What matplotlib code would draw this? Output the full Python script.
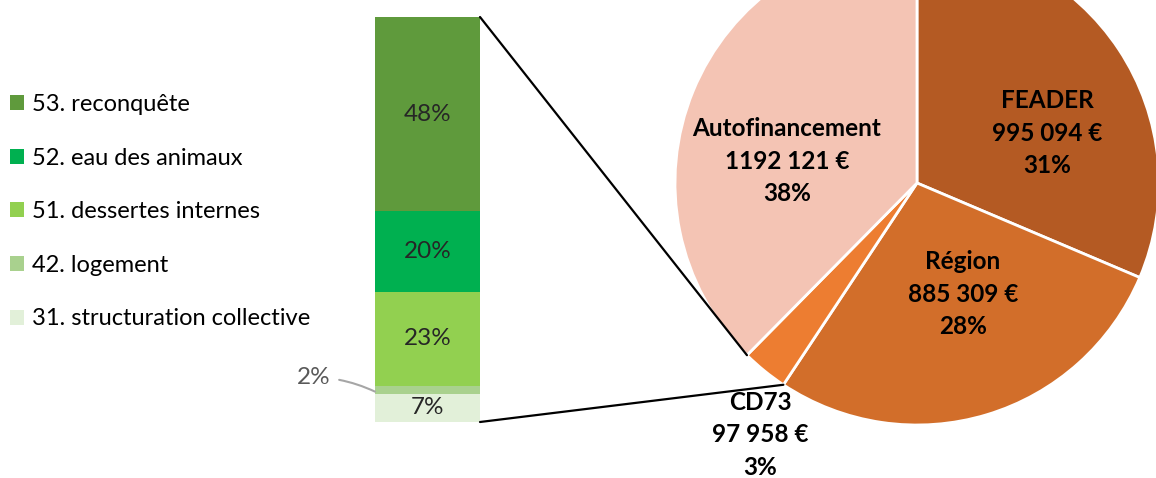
import matplotlib.pyplot as plt
import numpy as np
from matplotlib.patches import ConnectionPatch

plt.rcParams['font.family'] = ['Lato', 'DejaVu Sans']

# financement (camembert)
financeurs = ["FEADER", "Région", "CD73", "Autofinancement"]
montants = [995094, 885309, 97958, 1192121]
montants_txt = ["995 094 €", "885 309 €", "97 958 €", "1192 121 €"]
couleurs_pie = ["#B45A23", "#D26E2A", "#ED7D31", "#F4C4B4"]

# repartition par action (barre empilee, du bas vers le haut)
actions = ["31. structuration collective", "42. logement", "51. dessertes internes",
           "52. eau des animaux", "53. reconquête"]
parts = [7, 2, 23, 20, 48]
couleurs_bar = ["#E2F0D9", "#A9D18E", "#92D050", "#00B050", "#5F9A3C"]

W, H = 1156, 478
fig = plt.figure(figsize=(W / 100, H / 100), dpi=100)

# axe principal en pixels (y vers le haut)
ax = fig.add_axes([0, 0, 1, 1])
wedges, _ = ax.pie(montants, colors=couleurs_pie, startangle=90, counterclock=False,
                   center=(917, H - 183), radius=242,
                   wedgeprops=dict(edgecolor="white", linewidth=2))
ax.set_xlim(0, W)
ax.set_ylim(0, H)
ax.set_aspect("auto")
ax.axis("off")

total = sum(montants)
pos_labels = [(1047, H - 133), (963, H - 294), (760, H - 435), (787, H - 161)]
for nom, txt, m, (px, py) in zip(financeurs, montants_txt, montants, pos_labels):
    pct = round(m / total * 100)
    ax.text(px, py, f"{nom}\n{txt}\n{pct}%", ha="center", va="center",
            fontsize=17.5, fontweight="bold", color="black", linespacing=1.5)

# barre empilee
axb = fig.add_axes([375 / W, 56 / H, 105 / W, 405 / H])
bas = 0
for act, p, c in zip(actions, parts, couleurs_bar):
    rects = axb.bar(0, p, bottom=bas, width=1, color=c, label=act)
    if p >= 5:
        axb.bar_label(rects, labels=[f"{p}%"], label_type="center",
                      fontsize=17.5, color="#262626")
    else:
        axb.annotate(f"{p}%", xy=(-0.5, bas + p / 2 - 0.5), xytext=(-0.92, bas + p / 2 + 3.0),
                     ha="right", va="center", fontsize=17.5, color="#595959",
                     arrowprops=dict(arrowstyle="-", color="#A6A6A6", lw=1.5,
                                     shrinkA=4, shrinkB=0,
                                     connectionstyle="angle3,angleA=0,angleB=-25"))
    bas += p
axb.set_xlim(-0.5, 0.5)
axb.set_ylim(0, 100)
axb.axis("off")

# lignes de liaison entre la barre et la part CD73
cd = wedges[2]
for yb, ang in [(100, cd.theta1), (0, cd.theta2)]:
    xp = cd.center[0] + cd.r * np.cos(np.deg2rad(ang))
    yp = cd.center[1] + cd.r * np.sin(np.deg2rad(ang))
    con = ConnectionPatch(xyA=(0.5, yb), coordsA=axb.transData,
                          xyB=(xp, yp), coordsB=ax.transData,
                          color="black", lw=1.6)
    fig.add_artist(con)

h, l = axb.get_legend_handles_labels()
fig.legend(h[::-1], l[::-1], loc="upper left", bbox_to_anchor=(10 / W, 1 - 94 / H),
           frameon=False, fontsize=17, handlelength=0.6, handleheight=0.6,
           handletextpad=0.35, labelspacing=1.38, borderpad=0, borderaxespad=0)

fig.savefig("out.png", dpi=100)
